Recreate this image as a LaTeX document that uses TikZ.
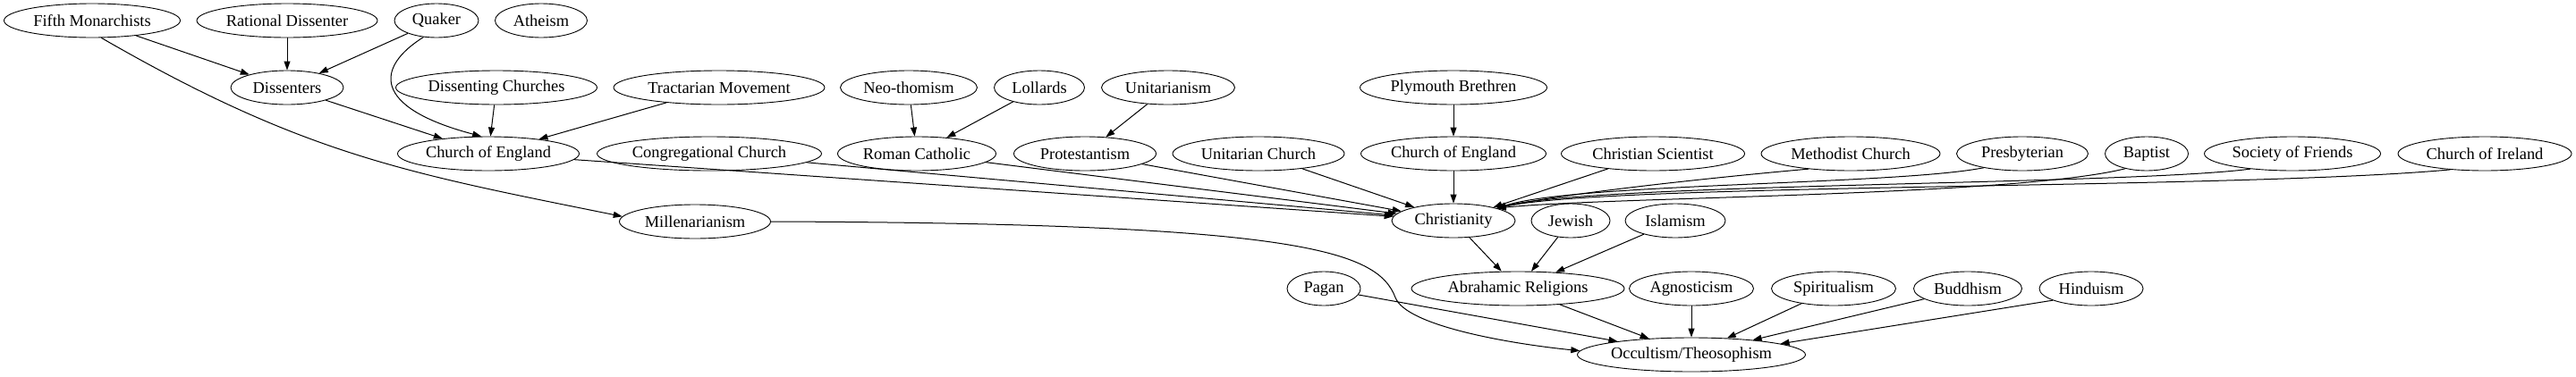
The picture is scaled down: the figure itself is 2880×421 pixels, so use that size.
\documentclass[tikz,border=0pt]{standalone}
\usepackage{fontspec}
\setmainfont{Liberation Serif}
\usetikzlibrary{shapes.geometric, arrows.meta}

\begin{document}
\begin{tikzpicture}[x=1pt, y=1pt,
    belief/.style={draw, ellipse, line width=0.9pt, minimum height=38pt, minimum width=#1, inner xsep=-15pt, inner ysep=0pt, font=\fontsize{18.4}{22}\selectfont},
    link/.style={->, line width=1pt},
    >={Triangle[length=10pt, width=7pt]}]

        \useasboundingbox (0,0) rectangle (2880,-421);

        % ------------------ Top row ------------------

        \node[belief=197pt] (fifth) at (103,-23) {Fifth Monarchists};
        \node[belief=202pt] (rational) at (321,-23) {Rational Dissenter};
        \node[belief=94pt] (quaker) at (488,-23) {Quaker};
        \node[belief=103pt] (atheism) at (605,-23) {Atheism};

        % ------------------ Second row ------------------

        \node[belief=126pt] (dissenters) at (321,-98) {Dissenters};
        \node[belief=225pt] (dischurch) at (555,-98) {Dissenting Churches};
        \node[belief=236pt] (tract) at (804,-98) {Tractarian Movement};
        \node[belief=153pt] (neo) at (1016,-98) {Neo-thomism};
        \node[belief=101pt] (lollards) at (1162,-98) {Lollards};
        \node[belief=149pt] (unit) at (1306,-98) {Unitarianism};
        \node[belief=209pt] (plymouth) at (1625,-98) {Plymouth Brethren};

        % ------------------ Churches ------------------

        \node[belief=203pt] (coe1) at (546,-172) {Church of England};
        \node[belief=251pt] (congr) at (793,-172) {Congregational Church};
        \node[belief=177pt] (roman) at (1025,-172) {Roman Catholic};
        \node[belief=159pt] (prot) at (1213,-172) {Protestantism};
        \node[belief=192pt] (unichurch) at (1407,-172) {Unitarian Church};
        \node[belief=207pt] (coe2) at (1625,-172) {Church of England};
        \node[belief=205pt] (sci) at (1848,-172) {Christian Scientist};
        \node[belief=200pt] (meth) at (2069,-172) {Methodist Church};
        \node[belief=147pt] (presb) at (2261,-172) {Presbyterian};
        \node[belief=93pt] (baptist) at (2400,-172) {Baptist};
        \node[belief=197pt] (friends) at (2563,-172) {Society of Friends};
        \node[belief=194pt] (ireland) at (2778,-172) {Church of Ireland};

        % ------------------ Religions ------------------

        \node[belief=169pt] (millen) at (777,-248) {Millenarianism};
        \node[belief=138pt] (christ) at (1625,-247) {Christianity};
        \node[belief=88pt] (jewish) at (1756,-247) {Jewish};
        \node[belief=112pt] (islam) at (1873,-247) {Islamism};

        \node[belief=82pt] (pagan) at (1480,-323) {Pagan};
        \node[belief=238pt] (abra) at (1697,-323) {Abrahamic Religions};
        \node[belief=139pt] (agn) at (1891,-323) {Agnosticism};
        \node[belief=139pt] (spirit) at (2050,-323) {Spiritualism};
        \node[belief=121pt] (buddh) at (2200,-323) {Buddhism};
        \node[belief=116pt] (hindu) at (2338,-323) {Hinduism};

        \node[belief=255pt] (occult) at (1891,-397) {Occultism/Theosophism};

        % Arrows
        \draw[link] (fifth) -- (dissenters);
        \draw[link] (rational) -- (dissenters);
        \draw[link] (quaker) -- (dissenters);
        \draw[link] (fifth.-62) .. controls (341,-174) and (457,-194) .. (millen.176);
        \draw[link] (quaker.232) .. controls (420,-75) and (415,-120) .. (coe1.112);
        \draw[link] (dissenters) -- (coe1);
        \draw[link] (dischurch) -- (coe1);
        \draw[link] (tract) -- (coe1);
        \draw[link] (neo) -- (roman);
        \draw[link] (lollards) -- (roman);
        \draw[link] (unit) -- (prot);
        \draw[link] (plymouth) -- (coe2);

        \draw[link] (coe1) -- (christ);
        \draw[link] (congr) -- (christ);
        \draw[link] (roman) -- (christ);
        \draw[link] (prot) -- (christ);
        \draw[link] (unichurch) -- (christ);
        \draw[link] (coe2) -- (christ);
        \draw[link] (sci) -- (christ);
        \draw[link] (meth.200) .. controls (1900,-200) and (1740,-218) .. (christ.16);
        \draw[link] (presb.200) .. controls (2120,-207) and (1760,-205) .. (christ.16);
        \draw[link] (baptist.215) .. controls (2250,-220) and (1800,-220) .. (christ.16);
        \draw[link] (friends.200) .. controls (2380,-207) and (1780,-205) .. (christ.16);
        \draw[link] (ireland.205) .. controls (2500,-212) and (1800,-205) .. (christ.16);

        \draw[link] (christ) -- (abra);
        \draw[link] (jewish) -- (abra);
        \draw[link] (islam) -- (abra);

        \draw[link] (millen.east) .. controls (1450,-250) and (1540,-280) .. (1560,-333)
            .. controls (1572,-365) and (1690,-385) .. (occult.178);
        \draw[link] (pagan) -- (occult);
        \draw[link] (abra) -- (occult);
        \draw[link] (agn) -- (occult);
        \draw[link] (spirit) -- (occult);
        \draw[link] (buddh) -- (occult);
        \draw[link] (hindu.197) -- (occult.7);

\end{tikzpicture}
\end{document}
